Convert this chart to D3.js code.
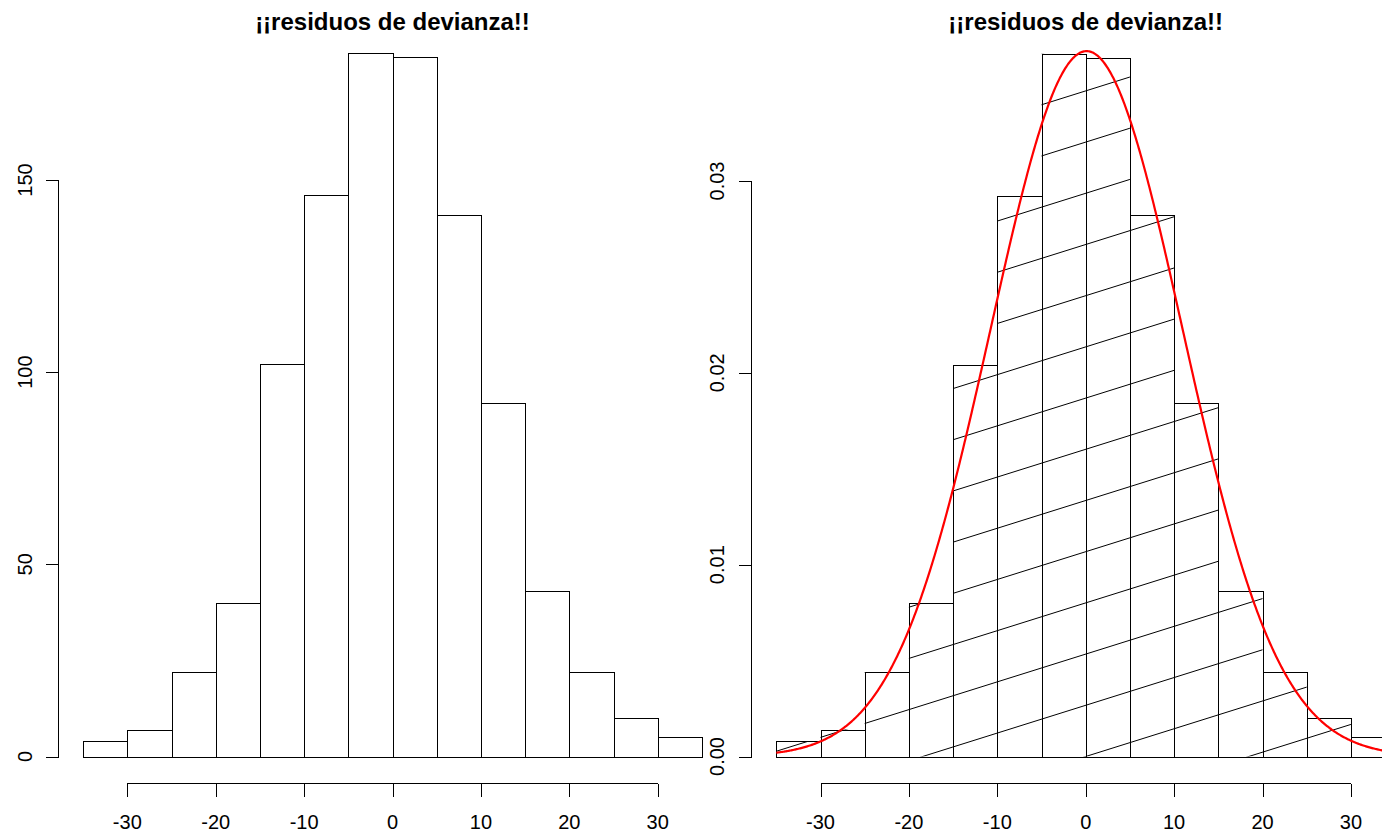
<!DOCTYPE html>
<html>
<head>
<meta charset="utf-8">
<script src="https://cdn.jsdelivr.net/npm/d3@7"></script>
<style>
  html, body { margin: 0; padding: 0; background: #fff; }
  svg { display: block; font-family: "Liberation Sans", Arial, sans-serif; }
</style>
</head>
<body>
<svg id="chart" width="1382" height="834"></svg>
<script>
// Histogram of deviance residuals: bin edges and counts
const binEdges = [-35, -30, -25, -20, -15, -10, -5, 0, 5, 10, 15, 20, 25, 30, 35];
const binCounts = [4, 7, 22, 40, 102, 146, 183, 182, 141, 92, 43, 22, 10, 5];
const xTicks = [-30, -20, -10, 0, 10, 20, 30];
const countTicks = [0, 50, 100, 150];
const densityTicks = [0, 0.01, 0.02, 0.03];
const titleText = "¡¡residuos de devianza!!";
// normal fit drawn over the density histogram
const fitMean = 0.1;
const fitSd = 10.85;
const curveRange = [-35, 35];

const total = d3.sum(binCounts);
const binWidth = binEdges[1] - binEdges[0];
const bins = binCounts.map((c, i) => ({
  x0: binEdges[i], x1: binEdges[i + 1], count: c,
  density: c / (total * binWidth)
}));

const svg = d3.select("#chart");
const FONT = 20;

function panel(opts) {
  const g = svg.append("g");
  const x = opts.x, y = opts.y;
  const baseY = y(0);

  // bars
  const bars = g.append("g");
  bars.selectAll("rect").data(bins).join("rect")
    .attr("x", d => x(d.x0) + 0.5)
    .attr("y", d => Math.round(y(opts.value(d))) + 0.5)
    .attr("width", d => x(d.x1) - x(d.x0))
    .attr("height", d => Math.round(baseY) - Math.round(y(opts.value(d))))
    .attr("fill", "none")
    .attr("stroke", "#000")
    .attr("stroke-width", 1)
    .attr("shape-rendering", "crispEdges");

  if (opts.hatch) {
    // diagonal shading lines anchored at the data origin, clipped to the bars
    const clipId = "hatchClip";
    svg.append("defs").append("clipPath").attr("id", clipId)
      .selectAll("rect").data(bins).join("rect")
      .attr("x", d => x(d.x0))
      .attr("y", d => y(opts.value(d)))
      .attr("width", d => x(d.x1) - x(d.x0))
      .attr("height", d => baseY - y(opts.value(d)));
    const ox = x(0), oy = y(0);
    const slope = 0.314, gap = 51.2;
    const xa = x.invert ? x(-40) : 0, xb = x(40);
    const ks = d3.range(-12, 16);
    g.append("g").attr("clip-path", `url(#${clipId})`)
      .selectAll("line").data(ks).join("line")
      .attr("x1", xa).attr("x2", xb)
      .attr("y1", k => oy - slope * (xa - ox) - k * gap)
      .attr("y2", k => oy - slope * (xb - ox) - k * gap)
      .attr("stroke", "#000").attr("stroke-width", 1);
    bars.raise();
  }

  // x axis
  const axY = 783.5;
  const ax = g.append("g").attr("shape-rendering", "crispEdges");
  ax.append("line")
    .attr("x1", x(xTicks[0])).attr("x2", x(xTicks[xTicks.length - 1]))
    .attr("y1", axY).attr("y2", axY).attr("stroke", "#000");
  ax.selectAll("line.t").data(xTicks).join("line").attr("class", "t")
    .attr("x1", d => Math.round(x(d)) + 0.5).attr("x2", d => Math.round(x(d)) + 0.5)
    .attr("y1", axY).attr("y2", axY + 13).attr("stroke", "#000");
  g.selectAll("text.xl").data(xTicks).join("text").attr("class", "xl")
    .attr("x", d => x(d)).attr("y", 828.5)
    .attr("text-anchor", "middle").attr("font-size", FONT).attr("fill", "#000")
    .text(d => d3.format("d")(d).replace("−", "-"));

  // y axis
  const axX = opts.axisX;
  const ay = g.append("g").attr("shape-rendering", "crispEdges");
  ay.append("line")
    .attr("x1", axX).attr("x2", axX)
    .attr("y1", y(opts.ticks[0])).attr("y2", y(opts.ticks[opts.ticks.length - 1]))
    .attr("stroke", "#000");
  ay.selectAll("line.t").data(opts.ticks).join("line").attr("class", "t")
    .attr("x1", axX - 13).attr("x2", axX)
    .attr("y1", d => Math.round(y(d)) + 0.5).attr("y2", d => Math.round(y(d)) + 0.5)
    .attr("stroke", "#000");
  g.selectAll("text.yl").data(opts.ticks).join("text").attr("class", "yl")
    .attr("transform", d => `translate(${opts.labelX},${y(d)}) rotate(-90)`)
    .attr("text-anchor", "middle").attr("font-size", FONT).attr("fill", "#000")
    .text(opts.fmt);

  // title
  g.append("text")
    .attr("x", x(0)).attr("y", 29.5)
    .attr("text-anchor", "middle").attr("font-size", 24).attr("font-weight", "bold")
    .attr("fill", "#000")
    .text(titleText);

  return g;
}

// left panel: frequencies
const xL = d3.scaleLinear().domain([-30, 30]).range([127.3, 657.7]);
const yL = d3.scaleLinear().domain([0, 150]).range([756.5, 180]);
panel({
  x: xL, y: yL, value: d => d.count, ticks: countTicks,
  fmt: d => d3.format("d")(d), axisX: 58.5, labelX: 31.5, hatch: false
});

// right panel: densities with shading and normal curve
const xR = d3.scaleLinear().domain([-30, 30]).range([820.5, 1350.9]);
const yR = d3.scaleLinear().domain([0, 0.03]).range([756.5, 181]);
const gR = panel({
  x: xR, y: yR, value: d => d.density, ticks: densityTicks,
  fmt: d => d3.format(".2f")(d), axisX: 751.5, labelX: 723.5, hatch: true
});

const normPdf = v => Math.exp(-0.5 * ((v - fitMean) / fitSd) ** 2) / (fitSd * Math.sqrt(2 * Math.PI));
const curvePts = d3.range(curveRange[0], curveRange[1] + 0.001, 0.1).map(v => [v, normPdf(v)]);
gR.append("path")
  .datum(curvePts)
  .attr("d", d3.line().x(d => xR(d[0])).y(d => yR(d[1])))
  .attr("fill", "none").attr("stroke", "#ff0000").attr("stroke-width", 2.2);
</script>
</body>
</html>
